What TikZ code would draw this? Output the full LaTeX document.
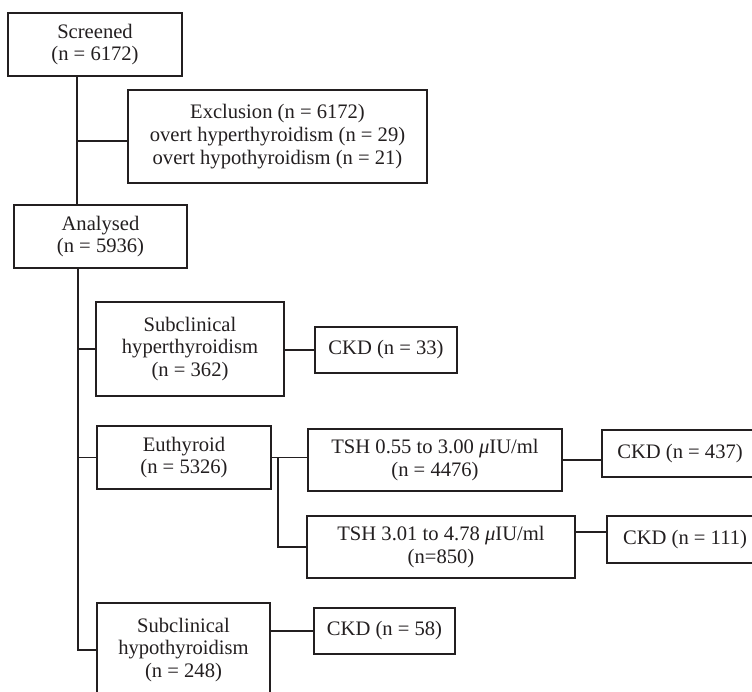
\documentclass[tikz,border=0pt]{standalone}
\usepackage{fontspec}
\setmainfont{Liberation Serif}
\definecolor{ink}{RGB}{35,31,32}
\newcommand{\fsz}{\fontsize{20.6pt}{22.8pt}\selectfont}
\begin{document}
\begin{tikzpicture}[x=1pt,y=-1pt,
  box/.style={draw=ink, line width=1.3pt, fill=white, inner sep=0pt,
    align=center, font=\fsz, text=ink},
  conn/.style={draw=ink, line width=1.3pt},
  trunk/.style={draw=ink, line width=2.4pt}]
\useasboundingbox (0,0) rectangle (752,692);
\clip (0,0) rectangle (752,692);
\fill[white] (0,0) rectangle (752,692);

\node[box, minimum width=174pt, minimum height=63pt] (scr) at (95,44.5) {Screened\\(n = 6172)};
\node[box, minimum width=299pt, minimum height=93pt] (exc) at (277.5,136.5) {\raisebox{-3pt}{\parbox{290pt}{\centering Exclusion (n = 6172)\\overt hyperthyroidism (n = 29)\\overt hypothyroidism (n = 21)}}};
\node[box, minimum width=173pt, minimum height=63pt] (ana) at (100.5,236.5) {Analysed\\(n = 5936)};
\node[box, minimum width=188pt, minimum height=94pt] (shy) at (190,349) {Subclinical\\hyperthyroidism\\(n = 362)};
\node[box, minimum width=142pt, minimum height=46pt] (c33) at (386,350) {CKD (n = 33)};
\node[box, minimum width=174pt, minimum height=63pt] (eu) at (184,457.5) {Euthyroid\\(n = 5326)};
\node[box, minimum width=254pt, minimum height=62pt] (t1) at (435,460) {TSH 0.55 to 3.00 \textit{μ}IU/ml\\(n = 4476)};
\node[box, minimum width=156pt, minimum height=47pt] (c437) at (680,453.5) {CKD (n = 437)};
\node[box, minimum width=268pt, minimum height=62pt] (t2) at (441,547) {TSH 3.01 to 4.78 \textit{μ}IU/ml\\(n=850)};
\node[box, minimum width=156pt, minimum height=47pt] (c111) at (685,539.5) {CKD (n = 111)};
\node[box, minimum width=141pt, minimum height=46pt] (c58) at (384.5,631) {CKD (n = 58)};
\node[box, minimum width=173pt, minimum height=94pt] (sho) at (183.5,650) {Subclinical\\hypothyroidism\\(n = 248)};

\coordinate (tA) at (77,0);
\coordinate (tB) at (78,0);
\coordinate (jx) at (278,0);
\coordinate (j1) at (77,141);

\draw[trunk] (scr.south -| tA) -- (ana.north -| tA);
\draw[conn] (j1) -- (j1 -| exc.west);
\draw[conn] (ana.south -| tB) |- (sho.west);
\draw[conn] (tB |- shy.west) -- (shy.west);
\draw[conn] (tB |- eu.west) -- (eu.west);
\draw[conn] (shy.east |- c33.west) -- (c33.west);
\draw[conn] (eu.east) -- (eu.east -| t1.west);
\draw[conn] (jx |- eu.east) |- (t2.west);
\draw[conn] (t1.east) -- (t1.east -| c437.west);
\draw[conn] ([yshift=15pt]t2.east) -- ([yshift=15pt]t2.east -| c111.west);
\draw[conn] (sho.east |- c58.west) -- (c58.west);
\end{tikzpicture}
\end{document}
